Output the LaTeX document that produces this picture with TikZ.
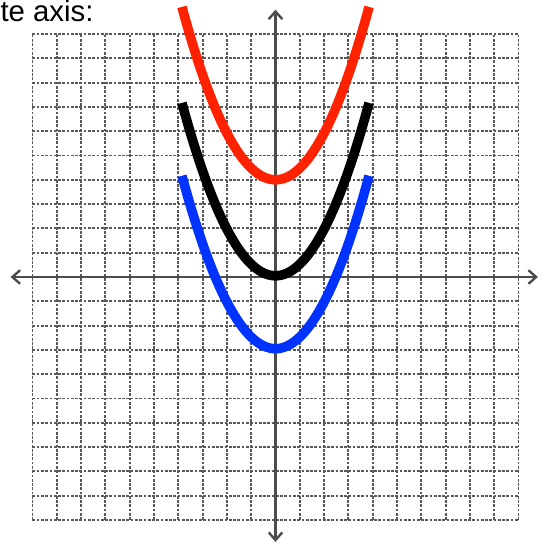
\documentclass[tikz,border=0pt]{standalone}
\usepackage{fontspec}
\setmainfont{Liberation Sans}
\usetikzlibrary{arrows.meta}

\definecolor{upred}{RGB}{255,34,0}
\definecolor{downblue}{RGB}{0,51,255}

\begin{document}
\begin{tikzpicture}[
    x=0.5cm, y=0.5cm,
    >={Straight Barb[length=4.5pt, width=8pt]},
    gridline/.style={draw=black!65, line width=1.1pt, dash pattern=on 1.6pt off 0.9pt},
    axis/.style={draw=black!70, line width=1.4pt},
    curve/.style={line width=5.6pt, domain=-3.85:3.85, samples=60, smooth},
    captiontext/.style={font=\fontsize{17.2}{20}\selectfont, inner sep=0pt}
]
\useasboundingbox (-11.337,-10.988) rectangle (11.173,11.399);

% Grid
\foreach \k in {-10,...,10} {
    \draw[gridline] (\k,-10) -- (\k,10);
    \draw[gridline] (-10,\k) -- (10,\k);
}

% Axes
\coordinate (xl) at (-10.9,0);
\coordinate (xr) at (10.8,0);
\coordinate (yb) at (0,-10.9);
\coordinate (yt) at (0,11.0);
\draw[axis, <->] (xl) -- (xr);
\draw[axis, <->] (yb) -- (yt);

% Parabolas
\draw[curve, draw=upred] plot (\x, {0.48*\x*\x+4});
\draw[curve, draw=black] plot (\x, {0.48*\x*\x+0.05});
\draw[curve, draw=downblue] plot (\x, {0.48*\x*\x-2.95});

% Caption
\node[captiontext, anchor=base west] (caption) at (-11.33,10.5) {te axis:};

\end{tikzpicture}
\end{document}
